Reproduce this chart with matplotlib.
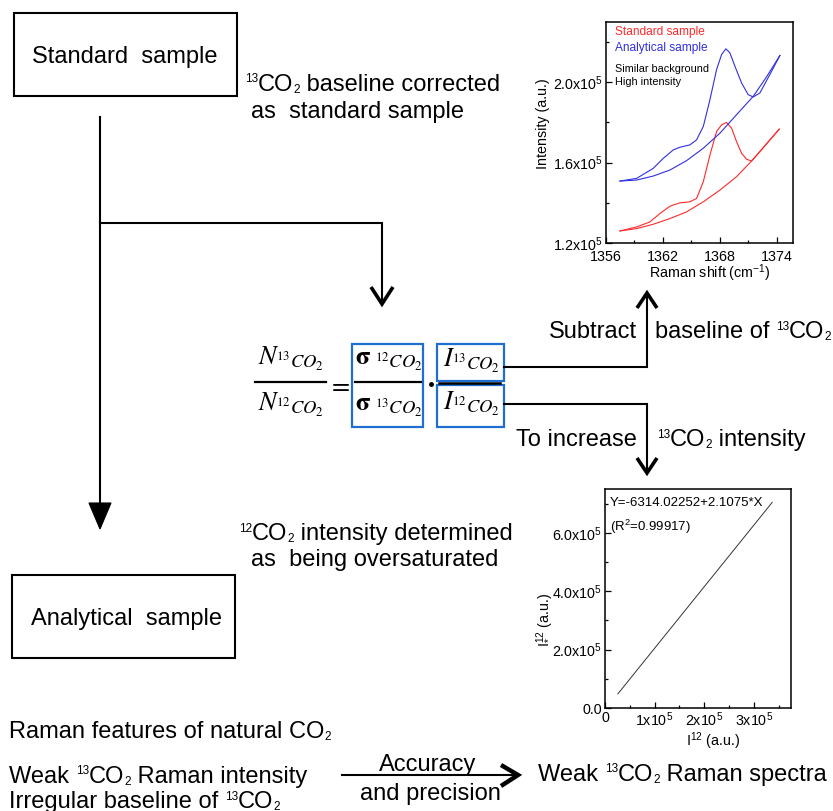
import matplotlib
matplotlib.use("Agg")
import matplotlib.pyplot as plt
from matplotlib.patches import Rectangle, Polygon
from matplotlib.ticker import MultipleLocator

plt.rcParams['font.family'] = ['Liberation Sans', 'DejaVu Sans']
plt.rcParams['mathtext.fontset'] = 'custom'
plt.rcParams['mathtext.rm'] = 'Liberation Sans'
plt.rcParams['mathtext.it'] = 'Liberation Sans:italic'
plt.rcParams['mathtext.bf'] = 'Liberation Sans:bold'

# Raman spectra around the 13CO2 band (shift in cm-1, intensity in a.u.)
std_shift = [1357.47, 1359.23, 1360.63, 1361.68, 1362.74, 1363.79, 1364.84, 1365.54,
             1366.25, 1366.95, 1367.65, 1368.18, 1368.70, 1369.23, 1369.75, 1370.28,
             1370.81, 1371.33, 1372.91, 1374.25]
std_int = [126000, 128000, 130500, 134667, 138333, 140000, 140500, 142167,
           150500, 163833, 175500, 178833, 180000, 177167, 170500, 164667,
           161667, 160833, 169333, 176667]
std_base_shift = [1357.47, 1359.23, 1360.98, 1362.74, 1364.49, 1366.25, 1368.0,
                  1369.75, 1371.51, 1372.91, 1374.25]
std_base_int = [126000, 127167, 129333, 132167, 135500, 140500, 146333,
                153000, 161667, 169333, 176667]

ana_shift = [1357.47, 1359.23, 1360.98, 1362.04, 1363.09, 1363.79, 1364.84, 1365.54,
             1366.25, 1366.95, 1367.65, 1368.18, 1368.63, 1369.05, 1369.58, 1370.28,
             1370.98, 1371.51, 1372.21, 1373.26, 1374.32]
ana_int = [150833, 152167, 157167, 162167, 166333, 167667, 168833, 171333,
           178000, 191333, 206333, 213833, 216667, 214667, 208000, 199667,
           193833, 192667, 194667, 203833, 213333]
ana_base_shift = [1357.47, 1359.23, 1360.98, 1362.74, 1364.49, 1366.25, 1368.0,
                  1369.75, 1371.51, 1372.91, 1374.32]
ana_base_int = [150833, 151333, 153333, 156333, 161000, 167167, 174667,
                183833, 193000, 202667, 213333]

# 12CO2 intensity calibration line (measured vs. extrapolated)
cal_x = [2.6e4, 3.37e5]
cal_y = [4.85e4, 7.04e5]

spec_xticks = [1356, 1362, 1368, 1374]
spec_yticks = [1.2e5, 1.6e5, 2.0e5]
spec_ylabels = [r'1.2x10$^5$', r'1.6x10$^5$', r'2.0x10$^5$']
cal_xticks = [0, 1e5, 2e5, 3e5]
cal_xlabels = ['0', r'1x10$^5$', r'2x10$^5$', r'3x10$^5$']
cal_yticks = [0, 2e5, 4e5, 6e5]
cal_ylabels = ['0.0', r'2.0x10$^5$', r'4.0x10$^5$', r'6.0x10$^5$']

W, H = 833, 811
fig = plt.figure(figsize=(W / 100, H / 100), dpi=100)
ax = fig.add_axes([0, 0, 1, 1])
ax.set_xlim(0, W)
ax.set_ylim(H, 0)
ax.axis('off')
renderer = fig.canvas.get_renderer()

FS = 17
LW = 1.5
BLUE = '#1f6fd0'


def rich(x, y, parts, fs=FS, ha='left'):
    """Write a line made of pieces: (text, 0) normal, (text, 1) sup, (text, -1) sub."""
    px = fs * 100 / 72
    drawn = []
    total = 0
    for s, lvl in parts:
        size = fs if lvl == 0 else fs * 0.5
        t = ax.text(0, 0, s, fontsize=size, va='baseline')
        w = t.get_window_extent(renderer).width
        drawn.append((t, lvl, w))
        total += w
    x0 = {'left': x, 'right': x - total, 'center': x - total / 2}[ha]
    for t, lvl, w in drawn:
        dy = {0: 0, 1: -0.36 * px, -1: 0.1 * px}[lvl]
        t.set_position((x0, y + dy))
        x0 += w


def box(x0, y0, x1, y1, color='black', lw=LW):
    ax.add_patch(Rectangle((x0, y0), x1 - x0, y1 - y0, fill=False,
                           edgecolor=color, lw=lw))


def chevron(pts, lw=2.6):
    xs, ys = zip(*pts)
    ax.plot(xs, ys, color='black', lw=lw, solid_joinstyle='miter',
            solid_capstyle='butt')


def line(xs, ys, lw=LW):
    ax.plot(xs, ys, color='black', lw=lw, solid_joinstyle='miter')


# sample boxes
box(14, 13, 237, 96)
ax.text(125, 63, 'Standard  sample', fontsize=FS, ha='center', va='baseline')
box(12, 575, 235, 658)
ax.text(127, 625, 'Analytical  sample', fontsize=FS, ha='center', va='baseline')

# flow from the standard sample
line([100, 100], [117, 506])
ax.add_patch(Polygon([[89, 503], [111, 503], [100, 529]], closed=True,
                     facecolor='black', edgecolor='black', lw=0.8))
line([100, 382, 382], [223, 223, 304])
chevron([(371, 287), (382, 304), (393, 287)])

rich(245, 91, [('13', 1), ('CO', 0), ('2', -1), (' baseline corrected', 0)])
ax.text(251, 118, 'as  standard sample', fontsize=FS, va='baseline')
rich(239, 540, [('12', 1), ('CO', 0), ('2', -1), (' intensity determined', 0)])
ax.text(251, 566, 'as  being oversaturated', fontsize=FS, va='baseline')

# isotope ratio equation
EQ = 19
ax.text(291, 365, r'$N_{{}^{13}CO_2}$', fontsize=EQ, ha='center', va='baseline',
        math_fontfamily='stix')
ax.text(291, 411, r'$N_{{}^{12}CO_2}$', fontsize=EQ, ha='center', va='baseline',
        math_fontfamily='stix')
line([255, 326], [382, 382], lw=1.6)
ax.text(339, 392, r'$=$', fontsize=EQ, ha='center', va='baseline',
        math_fontfamily='stix')

box(352, 344, 423, 427, color=BLUE, lw=1.6)
ax.text(389, 365, r'$\mathbf{\sigma}_{\ {}^{12}CO_2}$', fontsize=EQ, ha='center',
        va='baseline', math_fontfamily='stix')
ax.text(389, 411, r'$\mathbf{\sigma}_{\ {}^{13}CO_2}$', fontsize=EQ, ha='center',
        va='baseline', math_fontfamily='stix')
line([355, 421], [382, 382], lw=1.6)
ax.plot([431], [384], 'o', color='black', ms=2.5)

box(437, 344, 504, 381, color=BLUE, lw=1.6)
box(437, 385, 504, 427, color=BLUE, lw=1.6)
line([439, 500], [383, 383], lw=1.8)
ax.text(471, 367, r'$I_{{}^{13}CO_2}$', fontsize=EQ, ha='center', va='baseline',
        math_fontfamily='stix')
ax.text(471, 410, r'$I_{{}^{12}CO_2}$', fontsize=EQ, ha='center', va='baseline',
        math_fontfamily='stix')

# branches to the two insets
line([504, 647, 647], [367, 367, 295])
chevron([(637, 308), (647, 293), (657, 308)])
line([504, 647, 647], [404, 404, 471])
chevron([(637, 458), (647, 473), (657, 458)])

ax.text(637, 338, 'Subtract', fontsize=FS, ha='right', va='baseline')
rich(655, 338, [('baseline of ', 0), ('13', 1), ('CO', 0), ('2', -1)])
ax.text(637, 446, 'To increase', fontsize=FS, ha='right', va='baseline')
rich(657, 446, [('13', 1), ('CO', 0), ('2', -1), (' intensity', 0)])

# bottom summary
rich(9, 738, [('Raman features of natural CO', 0), ('2', -1)])
rich(9, 783, [('Weak ', 0), ('13', 1), ('CO', 0), ('2', -1), (' Raman intensity', 0)])
rich(9, 808, [('Irregular baseline of ', 0), ('13', 1), ('CO', 0), ('2', -1)])
line([342, 514], [775, 775])
chevron([(501, 765), (518, 775), (501, 786)], lw=3.2)
ax.text(428, 771, 'Accuracy', fontsize=FS, ha='center', va='baseline')
ax.text(430, 800, 'and precision', fontsize=FS, ha='center', va='baseline')
rich(538, 781, [('Weak ', 0), ('13', 1), ('CO', 0), ('2', -1), (' Raman spectra', 0)])

# inset: spectra of the two samples
TFS = 10.3
ax1 = fig.add_axes([606 / W, 1 - 243 / H, 187 / W, 221 / H])
ax1.plot(std_base_shift, std_base_int, color='#ff2a2a', lw=0.8)
ax1.plot(std_shift, std_int, color='#ff2a2a', lw=0.8)
ax1.plot(ana_base_shift, ana_base_int, color='#3030e0', lw=0.8)
ax1.plot(ana_shift, ana_int, color='#3030e0', lw=0.8)
ax1.set_xlim(1356, 1375.7)
ax1.set_ylim(1.2e5, 2.3e5)
ax1.set_xticks(spec_xticks)
ax1.set_xticklabels([str(t) for t in spec_xticks])
ax1.xaxis.set_minor_locator(MultipleLocator(3))
ax1.set_yticks(spec_yticks)
ax1.set_yticklabels(spec_ylabels)
ax1.yaxis.set_minor_locator(MultipleLocator(2e4))
ax1.tick_params(which='both', direction='in', labelsize=TFS, pad=2)
ax1.tick_params(axis='x', which='major', pad=5)
ax1.tick_params(which='major', length=4, width=0.9)
ax1.tick_params(which='minor', length=2.5, width=0.9)
ax1.set_xlabel(r'Raman shift (cm$^{-1}$)', fontsize=TFS)
ax1.set_ylabel('Intensity (a.u.)', fontsize=TFS)
ax1.xaxis.set_label_coords(0.556, -0.09)
ax1.yaxis.set_label_coords(-0.30, 0.54)
for s in ax1.spines.values():
    s.set_linewidth(1.1)
ax1.text(1357, 2.25e5, 'Standard sample', color='#ff2a2a', fontsize=8.6, va='center')
ax1.text(1357, 2.17e5, 'Analytical sample', color='#3030e0', fontsize=8.6, va='center')
ax1.text(1357, 2.065e5, 'Similar background', fontsize=7.8, va='center')
ax1.text(1357, 2.0e5, 'High intensity', fontsize=7.8, va='center')

# inset: 12CO2 intensity calibration
ax2 = fig.add_axes([605 / W, 1 - 708 / H, 186 / W, 219 / H])
ax2.plot(cal_x, cal_y, color='#333333', lw=0.7)
ax2.set_xlim(0, 3.75e5)
ax2.set_ylim(0, 7.5e5)
ax2.set_xticks(cal_xticks)
ax2.set_xticklabels(cal_xlabels)
ax2.xaxis.set_minor_locator(MultipleLocator(5e4))
ax2.set_yticks(cal_yticks)
ax2.set_yticklabels(cal_ylabels)
ax2.yaxis.set_minor_locator(MultipleLocator(1e5))
ax2.tick_params(which='both', direction='in', labelsize=TFS, pad=2)
ax2.tick_params(which='major', length=4, width=0.9)
ax2.tick_params(which='minor', length=2.5, width=0.9)
ax2.set_xlabel(r'I$^{12}$ (a.u.)', fontsize=TFS)
ax2.set_ylabel(r'I$^{12}_{*}$ (a.u.)', fontsize=TFS)
ax2.xaxis.set_label_coords(0.58, -0.10)
ax2.yaxis.set_label_coords(-0.27, 0.40)
for s in ax2.spines.values():
    s.set_linewidth(1.1)
ax2.text(0.027, 0.936, 'Y=-6314.02252+2.1075*X', transform=ax2.transAxes,
         fontsize=9.5, va='center')
ax2.text(0.027, 0.826, r'(R$^2$=0.99917)', transform=ax2.transAxes,
         fontsize=9.5, va='center')

fig.savefig('out.png', dpi=100)
